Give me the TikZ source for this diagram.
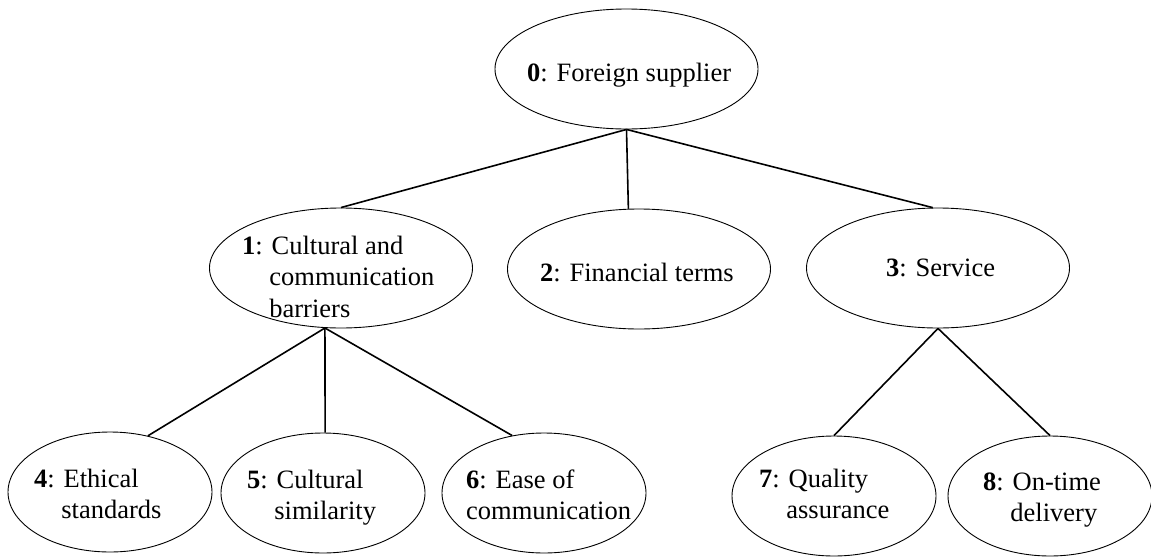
\documentclass[tikz,border=0pt]{standalone}
\usepackage{fontspec}
\setmainfont{Liberation Serif}
\usetikzlibrary{shapes.geometric}
\newcommand{\hang}{\hspace*{27.2pt}}
\begin{document}
\begin{tikzpicture}[x=1pt,y=-1pt,
  bubble/.style={draw, ellipse, inner sep=0pt, line width=0.9pt},
  topbub/.style={bubble, minimum width=263pt, minimum height=120pt},
  lowbub/.style={bubble, minimum width=204pt, minimum height=120pt},
  txt/.style={anchor=base west, inner sep=0pt, font=\fontsize{26.5}{31.5}\selectfont},
  link/.style={line width=1.6pt}]
\useasboundingbox (0,0) rectangle (1151,557);

% ellipses of the hierarchy
\node[topbub] (e0) at (626.5,69) {};
\node[topbub] (e1) at (341,268) {};
\node[topbub] (e2) at (639,269) {};
\node[topbub] (e3) at (938,268) {};
\node[lowbub] (e4) at (110,492) {};
\node[lowbub] (e5) at (323,493) {};
\node[lowbub] (e6) at (544,493) {};
\node[lowbub] (e7) at (834,496) {};
\node[lowbub] (e8) at (1050,496) {};

% branching points
\coordinate (j0) at (e0.south);
\coordinate (j1) at (e1.255);
\coordinate (j3) at (e3.south);

% connectors
\draw[link] (j0) -- (e1.north);
\draw[link] (j0) -- (e2.100);
\draw[link] (j0) -- (e3.95);
\draw[link] (j1) -- (e4.56);
\draw[link] (j1) -- (e5.88);
\draw[link] (j1) -- (e6.119);
\draw[link] (j3) -- (e7.north);
\draw[link] (j3) -- (e8.north);

% labels
\node[txt] (t0) at (527,81) {\textbf{0}: Foreign supplier};
\node[txt] (t1) at (242,254) {\begin{tabular}[t]{@{}l@{}}\textbf{1}: Cultural and\\\hang communication\\\hang barriers\end{tabular}};
\node[txt] (t2) at (540,281) {\textbf{2}: Financial terms};
\node[txt] (t3) at (886,276) {\textbf{3}: Service};
\node[txt] (t4) at (34,487) {\begin{tabular}[t]{@{}l@{}}\textbf{4}: Ethical\\\hang standards\end{tabular}};
\node[txt] (t5) at (247,488) {\begin{tabular}[t]{@{}l@{}}\textbf{5}: Cultural\\\hang similarity\end{tabular}};
\node[txt] (t6) at (466,488) {\begin{tabular}[t]{@{}l@{}}\textbf{6}: Ease of\\communication\end{tabular}};
\node[txt] (t7) at (759,487) {\begin{tabular}[t]{@{}l@{}}\textbf{7}: Quality\\\hang assurance\end{tabular}};
\node[txt] (t8) at (983,490) {\begin{tabular}[t]{@{}l@{}}\textbf{8}: On-time\\\hang delivery\end{tabular}};
\end{tikzpicture}
\end{document}
